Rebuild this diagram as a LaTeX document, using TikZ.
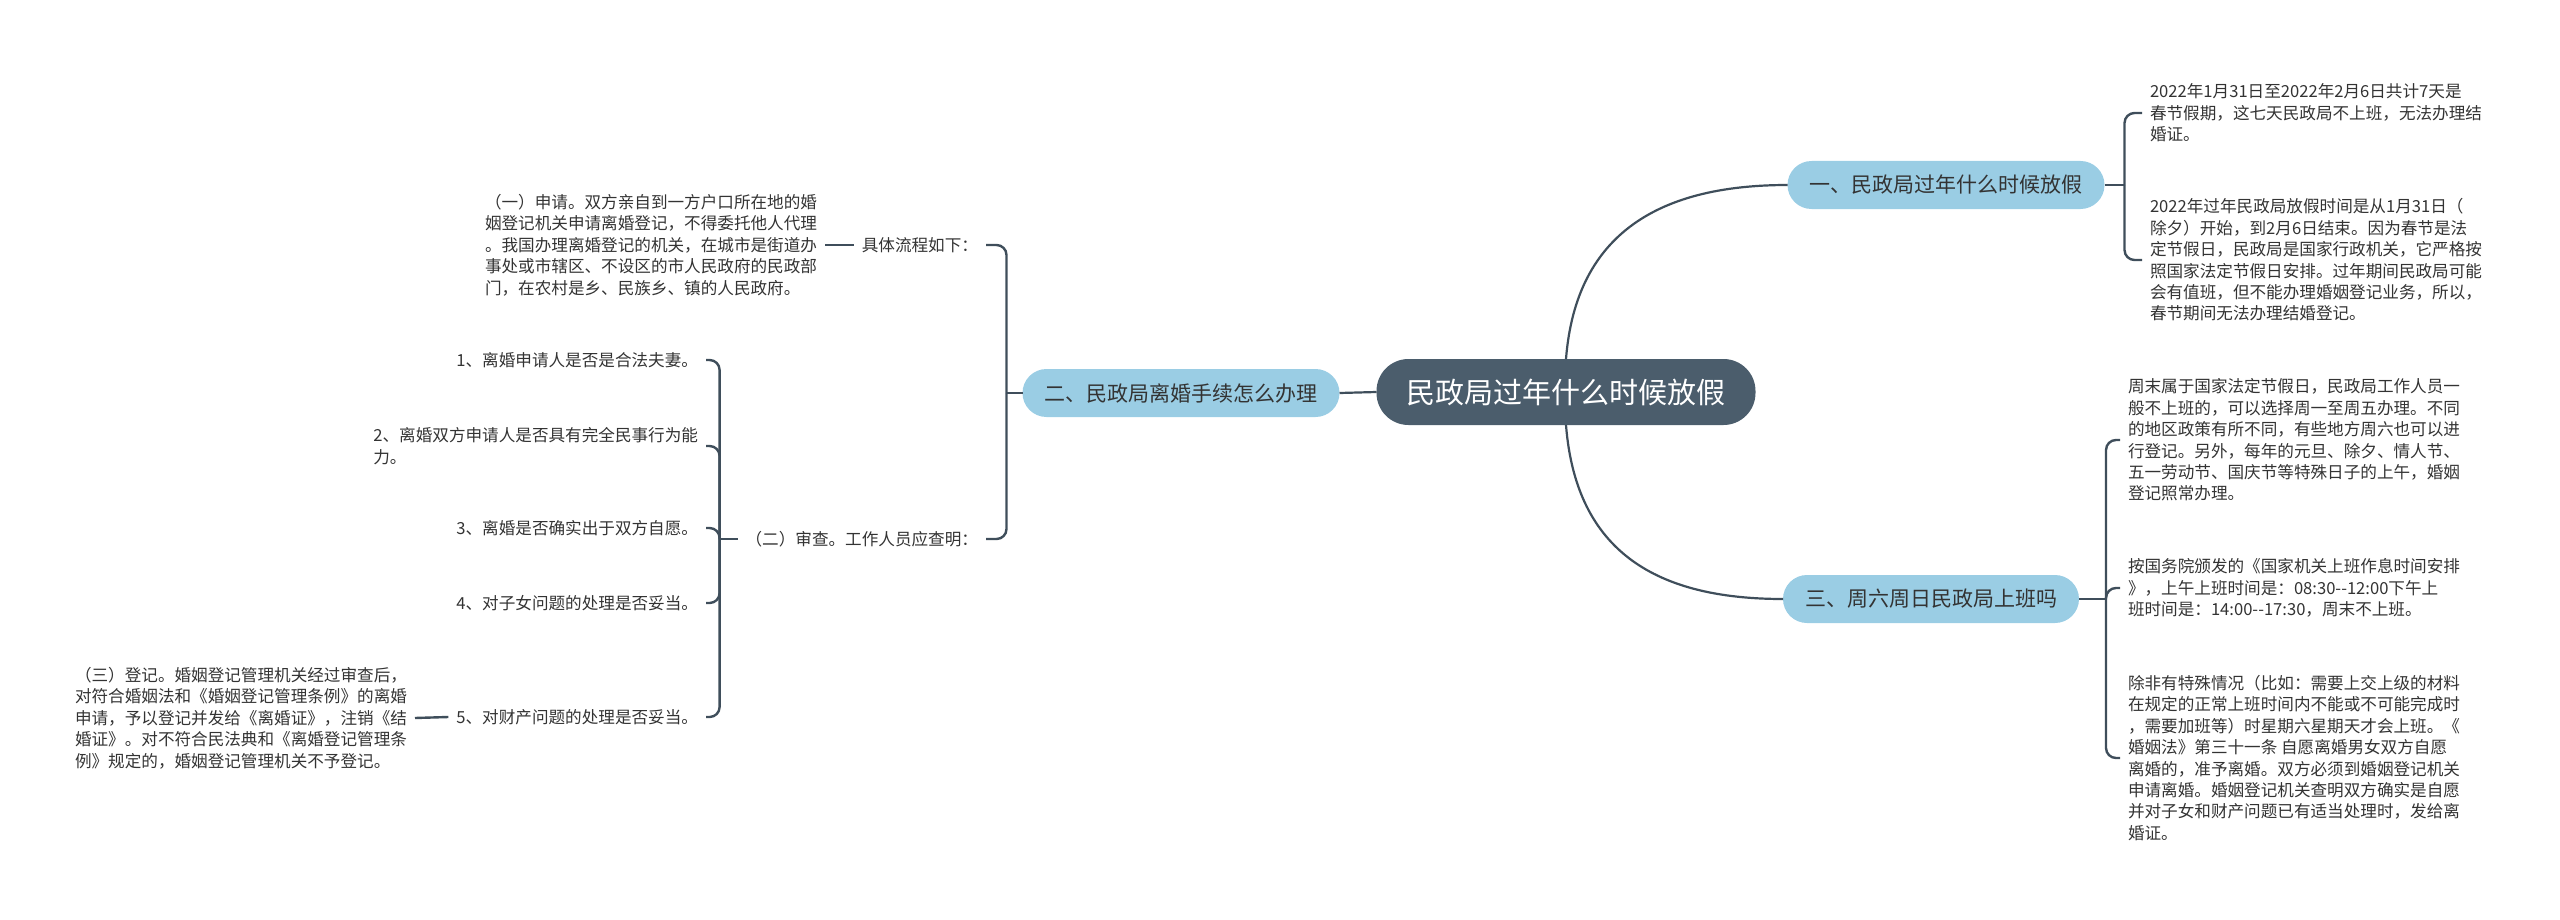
\documentclass[tikz,border=0pt]{standalone}
\usepackage{fontspec}
\setmainfont{Noto Sans CJK SC}
\usepackage{tikz}
\usetikzlibrary{positioning,calc}
\tikzset{mapx/.style={x=0.5pt,y=-0.5pt,every node/.style={outer sep=0pt}}}
\definecolor{mmracine}{HTML}{4B5D6C}
\definecolor{mmbranche}{HTML}{9ACDE4}
\definecolor{mmligne}{HTML}{3F4E5B}
\definecolor{mmtexte}{HTML}{333333}
\tikzset{
  lien/.style={draw=mmligne,line width=1.2pt,rounded corners=5pt},
  courbe/.style={draw=mmligne,line width=1.1pt},
  feuille/.style={font=\fontsize{8.3}{10.7}\selectfont,text=mmtexte,inner xsep=4pt,inner ysep=0pt,align=left},
}

\begin{document}
\begin{tikzpicture}[mapx,
  racine/.style={fill=mmracine,rounded corners=16pt,text=white,font=\fontsize{14.5}{16}\selectfont,
    minimum width=189.5pt,minimum height=33pt,inner sep=0pt},
  branche/.style={fill=mmbranche,rounded corners=12pt,text=mmtexte,font=\fontsize{10.5}{12}\selectfont,
    minimum height=24pt,inner xsep=11pt,inner ysep=0pt},
  droite/.style={feuille,anchor=east,align=right}]
  \useasboundingbox (0,0) rectangle (2560,920);
  \node[racine] (racine) at (1566,392) {民政局过年什么时候放假};
  \node[branche] (b1) at (1946,185) {一、民政局过年什么时候放假};
  \node[branche] (b2) at (1181,393) {二、民政局离婚手续怎么办理};
  \node[branche] (b3) at (1931,599) {三、周六周日民政局上班吗};

  \node[feuille,anchor=west] (t11) at (2142,113) {2022年1月31日至2022年2月6日共计7天是\\春节假期，这七天民政局不上班，无法办理结\\婚证。};
  \node[feuille,anchor=west] (t12) at (2142,260) {2022年过年民政局放假时间是从1月31日（\\除夕）开始，到2月6日结束。因为春节是法\\定节假日，民政局是国家行政机关，它严格按\\照国家法定节假日安排。过年期间民政局可能\\会有值班，但不能办理婚姻登记业务，所以，\\春节期间无法办理结婚登记。};
  \node[feuille,anchor=west] (t31) at (2120,440) {周末属于国家法定节假日，民政局工作人员一\\般不上班的，可以选择周一至周五办理。不同\\的地区政策有所不同，有些地方周六也可以进\\行登记。另外，每年的元旦、除夕、情人节、\\五一劳动节、国庆节等特殊日子的上午，婚姻\\登记照常办理。};
  \node[feuille,anchor=west] (t32) at (2120,588) {按国务院颁发的《国家机关上班作息时间安排\\》，上午上班时间是：08:30{-}{-}12:00下午上\\班时间是：14:00{-}{-}17:30，周末不上班。};
  \node[feuille,anchor=west] (t33) at (2120,758) {除非有特殊情况（比如：需要上交上级的材料\\在规定的正常上班时间内不能或不可能完成时\\，需要加班等）时星期六星期天才会上班。《\\婚姻法》第三十一条 自愿离婚男女双方自愿\\离婚的，准予离婚。双方必须到婚姻登记机关\\申请离婚。婚姻登记机关查明双方确实是自愿\\并对子女和财产问题已有适当处理时，发给离\\婚证。};

  \node[feuille,anchor=east] (p1) at (986,245) {具体流程如下：};
  \node[feuille,anchor=east] (yi) at (825,245) {（一）申请。双方亲自到一方户口所在地的婚\\姻登记机关申请离婚登记，不得委托他人代理\\。我国办理离婚登记的机关，在城市是街道办\\事处或市辖区、不设区的市人民政府的民政部\\门，在农村是乡、民族乡、镇的人民政府。};
  \node[feuille,anchor=east] (p2) at (986,539) {（二）审查。工作人员应查明：};
  \node[droite] (q1) at (706,360) {1、离婚申请人是否是合法夫妻。};
  \node[feuille,anchor=east] (q2) at (706,446) {2、离婚双方申请人是否具有完全民事行为能\\力。};
  \node[droite] (q3) at (706,528) {3、离婚是否确实出于双方自愿。};
  \node[droite] (q4) at (706,603) {4、对子女问题的处理是否妥当。};
  \node[droite] (q5) at (706,717) {5、对财产问题的处理是否妥当。};
  \node[feuille,anchor=east] (san) at (415,718) {（三）登记。婚姻登记管理机关经过审查后，\\对符合婚姻法和《婚姻登记管理条例》的离婚\\申请，予以登记并发给《离婚证》，注销《结\\婚证》。对不符合民法典和《离婚登记管理条\\例》规定的，婚姻登记管理机关不予登记。};

  \draw[courbe] (racine.north) .. controls +(10,-128) and +(-125,0) .. (b1.west);
  \draw[courbe] (racine.south) .. controls +(10,128) and +(-125,0) .. (b3.west);
  \draw[courbe] (racine.west) -- (b2.east);

  \draw[lien] (b1.east) -- ++(20,0) coordinate (f1);
  \draw[lien] (f1) |- (t11.west);
  \draw[lien] (f1) |- (t12.west);
  \draw[lien] (b3.east) -- ++(27,0) coordinate (f3);
  \draw[lien] (f3) |- (t31.west);
  \draw[lien] (f3) |- (t32.west);
  \draw[lien] (f3) |- (t33.west);
  \draw[lien] (b2.west) -- ++(-16,0) coordinate (f2);
  \draw[lien] (f2) |- (p1.east);
  \draw[lien] (f2) |- (p2.east);
  \draw[lien] (p1.west) -- (yi.east);
  \draw[lien] (p2.west) -- ++(-18,0) coordinate (g2);
  \foreach \q in {q1,q2,q3,q4,q5}
    \draw[lien] (g2) |- (\q.east);
  \draw[lien] (q5.west) -- (san.east);
\end{tikzpicture}
\end{document}
